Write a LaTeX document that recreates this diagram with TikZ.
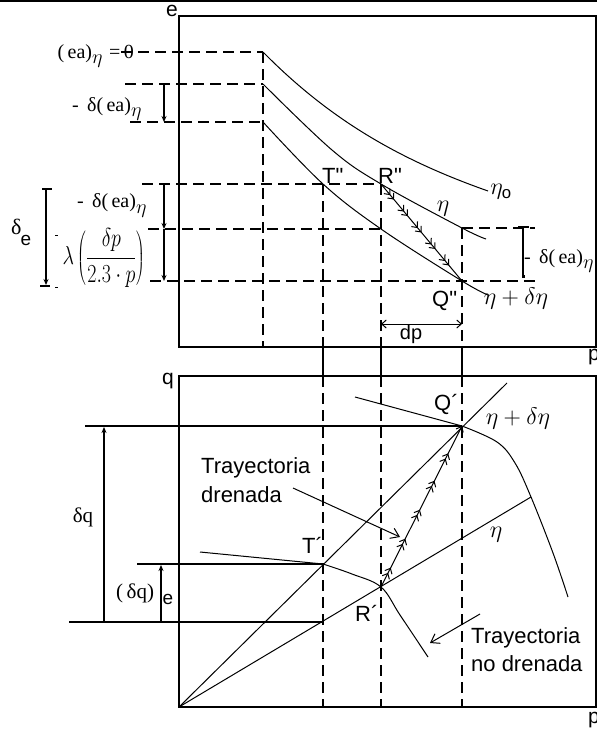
\RequirePackage{fix-cm}
\documentclass[tikz,border=0pt]{standalone}
\usepackage{fontspec}
\setmainfont{Liberation Sans}
\newfontfamily\serf{Liberation Serif}
\usetikzlibrary{arrows.meta,decorations.markings}
\begin{document}
\begin{tikzpicture}[x=1pt,y=-1pt,
 >={Straight Barb[length=4.5pt,width=8pt]},
 frm/.style={line width=1.8pt},
 dsh/.style={line width=1.4pt,dash pattern=on 11pt off 6pt},
 sln/.style={line width=1.3pt},
 crv/.style={line width=1pt},
 dimarrow/.style={line width=1.2pt,-{Stealth[length=6pt,width=5pt]}},
 sa/.style={inner sep=0pt,font=\fontsize{21}{21}\selectfont},
 se/.style={inner sep=0pt,font=\serf\fontsize{20}{20}\selectfont},
 gr/.style={inner sep=0pt,font=\fontsize{24}{24}\selectfont},
 tr/.style={inner sep=0pt,anchor=base west,font=\fontsize{22}{22}\selectfont},
 pathtop/.style={crv,postaction={decorate},decoration={markings,
   mark=at position 0.16 with {\arrow{>>}},
   mark=at position 0.33 with {\arrow{>>}},
   mark=at position 0.50 with {\arrow{>>}},
   mark=at position 0.67 with {\arrow{>>}},
   mark=at position 0.84 with {\arrow{>>}}}},
 pathbot/.style={crv,->,postaction={decorate},decoration={markings,
   mark=at position 0.12 with {\arrow{>>}},
   mark=at position 0.30 with {\arrow{>>}},
   mark=at position 0.48 with {\arrow{>>}},
   mark=at position 0.66 with {\arrow{>>}},
   mark=at position 0.83 with {\arrow{>>}}}},
 openhead/.style={line width=1pt,-{Straight Barb[length=8pt,width=11pt]}}
]
\fill[white] (0,0) rectangle (597,731);
\useasboundingbox (0,0) rectangle (597,731);

% ---------- coordinates ----------
\coordinate (tl) at (0,1); \coordinate (tr) at (597,1);
\coordinate (F1a) at (179,16); \coordinate (F1b) at (596,347);
\coordinate (F2a) at (179,376); \coordinate (F2b) at (596,707);
\coordinate (S0) at (263,52); \coordinate (S1) at (263,84);
\coordinate (S2) at (263,122); \coordinate (Sb) at (263,347);
\coordinate (Tpp) at (323,184); \coordinate (Rpp) at (381,184);
\coordinate (M) at (381,229); \coordinate (N) at (462,228);
\coordinate (Qpp) at (462,281);
\coordinate (Tb) at (323,347); \coordinate (Rb) at (381,347); \coordinate (Qb) at (462,347);
\coordinate (Tt) at (323,376); \coordinate (Rt) at (381,376); \coordinate (Qt) at (462,376);
\coordinate (Tbot) at (323,707); \coordinate (Rbot) at (381,707); \coordinate (Qbot) at (462,707);
\coordinate (h0) at (121,52); \coordinate (h1) at (125,84); \coordinate (h2) at (130,122);
\coordinate (h3) at (142,184); \coordinate (h4) at (148,229); \coordinate (h5) at (150,281);
\coordinate (h5e) at (538,281); \coordinate (Ne) at (535,228);
\coordinate (a1) at (164,84); \coordinate (a2) at (164,122);
\coordinate (a3) at (164,184); \coordinate (a4) at (164,229); \coordinate (a5) at (164,281);
\coordinate (de1) at (46,189); \coordinate (de2) at (46,285);
\coordinate (rb1) at (523,227); \coordinate (rb2) at (523,276);
\coordinate (dp1) at (381,324); \coordinate (dp2) at (462,324);
% bottom
\coordinate (O) at (179,707);
\coordinate (Qp) at (462,426); \coordinate (Tp) at (323,564);
\coordinate (Rp) at (381,587); \coordinate (Tq) at (323,622);
\coordinate (L1e) at (507,383); \coordinate (L2e) at (531,497);
\coordinate (c1s) at (355,397); \coordinate (c2s) at (200,552);
\coordinate (hq1) at (85,426); \coordinate (hq2) at (137,564); \coordinate (hq3) at (69,622);
\coordinate (dq1) at (104,622); \coordinate (dq2) at (104,427);
\coordinate (dqe1) at (161,622); \coordinate (dqe2) at (161,565);
\coordinate (ta1) at (293,488); \coordinate (ta2) at (400,537);
\coordinate (tb1) at (480,614); \coordinate (tb2) at (430,643);

% ---------- frames ----------
\draw[line width=2.5pt] (tl) -- (tr);
\draw[frm] (F1a) rectangle (F1b);
\draw[frm] (F2a) rectangle (F2b);

% ---------- top panel dashed guides ----------
\draw[dsh] (h0) -- (S0);
\draw[dsh] (h1) -- (S1);
\draw[dsh] (h2) -- (S2);
\draw[dsh] (h3) -- (Rpp);
\draw[dsh] (h4) -- (M);
\draw[dsh] (N) -- (Ne);
\draw[dsh] (h5) -- (h5e);
\draw[dsh] (S0) -- (Sb);
\draw[dsh] (Tpp) -- (Tb);
\draw[dsh] (Rpp) -- (Rb);
\draw[dsh] (N) -- (Qb);
% connectors between panels
\draw[sln] (Tb) -- (Tt);
\draw[sln] (Rb) -- (Rt);
\draw[sln] (Qb) -- (Qt);
% bottom panel dashed verticals
\draw[dsh] (Tt) -- (Tbot);
\draw[dsh] (Rt) -- (Rbot);
\draw[dsh] (Qt) -- (Qbot);

% ---------- top panel curves ----------
\draw[crv] (S0) .. controls (330,120) and (400,160) .. (488,191);
\draw[crv] plot[smooth,tension=0.6] coordinates {(S1) (332,150) (Rpp) (N) (486,239)};
\draw[crv] plot[smooth,tension=0.6] coordinates {(S2) (Tpp) (M) (Qpp) (488,295)};
\draw[pathtop] (Rpp) -- (Qpp);

% ---------- top panel dimension marks ----------
\draw[dimarrow] (a1) -- (a2);
\draw[dimarrow] (a3) -- (a4);
\draw[dimarrow] (a4) -- (a5);
\draw[dimarrow] (de1) -- (de2);
\draw[line width=1.2pt] (42,189) -- (52,189);
\draw[line width=1.2pt] (40,286) -- (50,286);
\draw[line width=1pt] (55,235) -- (58,235);
\draw[line width=1pt] (55,287) -- (58,287);
\draw[line width=1.2pt] (518,227) -- (529,227);
\draw[line width=1.2pt] (rb1) -- (rb2);
\fill (521.5,274.5) rectangle (524.5,277.5);
\draw[line width=1pt,<->] (dp1) -- (dp2);

% ---------- bottom panel lines ----------
\draw[crv] (O) -- (L1e);
\draw[crv] (O) -- (L2e);
\draw[sln] (hq1) -- (Qp);
\draw[sln] (hq2) -- (Tp);
\draw[sln] (hq3) -- (Tq);
\draw[dimarrow] (dq1) -- (dq2);
\draw[dimarrow] (dqe1) -- (dqe2);
\draw[crv] (c1s) -- (Qp);
\draw[crv] plot[smooth,tension=0.6] coordinates {(Qp) (497,442) (515,463) (L2e) (553,553) (568,597)};
\draw[crv] (c2s) -- (Tp);
\draw[crv] plot[smooth,tension=0.6] coordinates {(Tp) (352,574) (Rp) (400,615) (428,657)};
\draw[pathbot] (Rp) -- (Qp);
\draw[openhead] (ta1) -- (ta2);
\draw[openhead] (tb1) -- (tb2);

% ---------- labels top ----------
\node[sa] (le) at (172,11) {e};
\node[sa,anchor=west] (lp1) at (588,357) {p};
\node[se,anchor=base east] (lea0) at (134,58) {(\,ea)\raisebox{-5pt}{$\eta$}\,\,=\,0};
\node[se,anchor=base west] (ld1) at (72,111) {-\, δ(\,ea)\raisebox{-5pt}{$\eta$}};
\node[se,anchor=base west] (ld2) at (77,207) {-\, δ(\,ea)\raisebox{-6pt}{$\eta$}};
\node[se,anchor=base west] (ld3) at (524,263) {-\, δ(\,ea)\raisebox{-5pt}{$\eta$}};
\node[inner sep=0pt,font=\fontsize{20}{20}\selectfont] (llam) at (104,258)
   {\scalebox{1}[1.3]{$\displaystyle\lambda\left(\frac{\delta p}{2.3\cdot p}\right)$}};
\node[se,font=\serf\fontsize{22}{22}\selectfont,anchor=base west] (lde) at (11,234) {δ};
\node[sa,font=\fontsize{19}{19}\selectfont] (ldee) at (26,240) {e};
\node[tr] (lTpp) at (322,183) {T\textquotedbl};
\node[tr] (lRpp) at (378,183) {R\textquotedbl};
\node[tr] (lQpp) at (432,306) {Q\textquotedbl};
\node[gr] (leta0) at (501,192) {$\eta_{\mathrm{o}}$};
\node[gr] (leta1) at (443,209) {$\eta$};
\node[gr] (letad1) at (516,298) {$\eta+\delta\eta$};
\node[sa,font=\fontsize{20}{20}\selectfont] (ldp) at (411,334) {dp};

% ---------- labels bottom ----------
\node[sa] (lq) at (168,381) {q};
\node[sa,anchor=west] (lp2) at (588,720) {p};
\node[tr] (lQp) at (434,410) {Q´};
\node[gr] (letad2) at (518,418) {$\eta+\delta\eta$};
\node[tr] (lTp) at (302,553) {T´};
\node[tr] (lRp) at (355,621) {R´};
\node[gr] (leta2) at (496,535) {$\eta$};
\node[se,font=\serf\fontsize{21}{21}\selectfont] (ldq) at (83,517) {δq};
\node[se,font=\serf\fontsize{21}{21}\selectfont,anchor=base west] (ldqe) at (116,598) {(\,δq)};
\node[sa,font=\fontsize{19}{19}\selectfont] (ldqee) at (168,599) {e};
\node[tr] (ltd1) at (201,473) {Trayectoria};
\node[tr] (ltd2) at (201,502) {drenada};
\node[tr] (ltn1) at (471,643) {Trayectoria};
\node[tr] (ltn2) at (471,671) {no drenada};
\end{tikzpicture}
\end{document}
